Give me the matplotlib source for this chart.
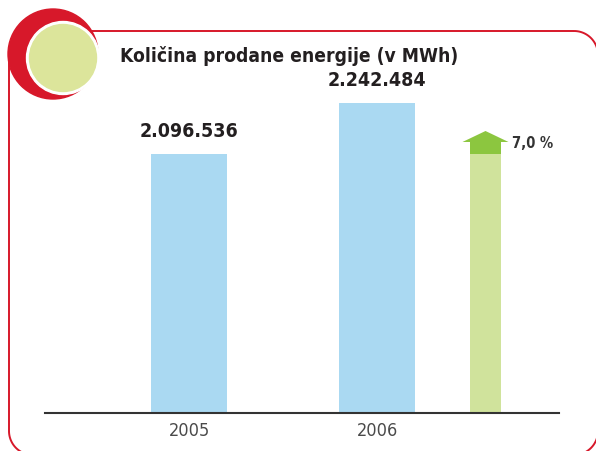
import matplotlib
matplotlib.use("Agg")
import matplotlib.pyplot as plt
import numpy as np
from matplotlib.patches import Circle, Polygon, Rectangle

# ---- data ----
categories = ["2005", "2006"]
values = [2096536, 2242484]
value_labels = ["2.096.536", "2.242.484"]
change_label = "7,0 %"
title = "Količina prodane energije (v MWh)"

plt.rcParams['font.family'] = ['DejaVu Sans']
plt.rcParams['font.stretch'] = 'condensed'

W, H = 596, 452
fig = plt.figure(figsize=(W / 100, H / 100), dpi=100)

# decoration layer in pixel coordinates (y measured from the top)
deco = fig.add_axes([0, 0, 1, 1])
deco.set_xlim(0, W)
deco.set_ylim(H, 0)
deco.axis('off')
red = "#d7182a"


def rounded_frame(x0, y0, x1, y1, r, n=30):
    pts = []
    corners = [((x1 - r, y0 + r), -90, 0), ((x1 - r, y1 - r), 0, 90),
               ((x0 + r, y1 - r), 90, 180), ((x0 + r, y0 + r), 180, 270)]
    for (cx, cy), a0, a1 in corners:
        t = np.radians(np.linspace(a0, a1, n))
        pts += list(zip(cx + r * np.cos(t), cy + r * np.sin(t)))
    pts.append(pts[0])
    return np.array(pts)


fr = rounded_frame(9, 32, 598, 456, 24)
deco.plot(fr[:, 0], fr[:, 1], color=red, lw=1.4, zorder=1, solid_capstyle='butt')
deco.add_patch(Circle((53, 55), 45, color=red, zorder=2))
deco.add_patch(Circle((63, 59), 36.5, color="white", zorder=3))
deco.add_patch(Circle((63, 59), 33.5, color="#dce59b", zorder=4))
deco.text(120, 56, title, fontsize=13.8, fontweight='bold', color="#231f20",
          va='center', ha='left', zorder=5, fontstretch='condensed')

# chart axes
base_px, top_px, left_px, right_px = 414, 40, 45, 559
ax = fig.add_axes([left_px / W, (H - base_px) / H, (right_px - left_px) / W, (base_px - top_px) / H])
ax.patch.set_alpha(0)

px_per_unit = (310 - 259) / (values[1] - values[0])
ymin = values[0] - 259 / px_per_unit
ymax = ymin + (base_px - top_px) / px_per_unit
ax.set_ylim(ymin, ymax)

x = [0, 1]
ax.bar(x, values, width=0.404, color="#aad9f2", zorder=2)
ax.set_xlim(-0.766, 1.968)

for xi, v, lab in zip(x, values, value_labels):
    ax.text(xi, v + 14 / px_per_unit, lab, ha='center', va='bottom', fontsize=14,
            fontweight='bold', color="#231f20", fontstretch='condensed')

# growth indicator
gx = 1.577
gw = 0.165
ax.bar([gx], [values[0]], width=gw, color="#d0e39c", zorder=2)
body_h = 12 / px_per_unit
head_h = 11 / px_per_unit
ax.add_patch(Rectangle((gx - gw / 2, values[0]), gw, body_h, color="#8cc63f", zorder=3, lw=0))
hw = 0.245
hb = values[0] + body_h
ax.add_patch(Polygon([(gx - hw / 2, hb), (gx + hw / 2, hb), (gx, hb + head_h)],
                     closed=True, color="#8cc63f", zorder=3, lw=0))
ax.text(gx + 0.14, values[0] + body_h, change_label, ha='left', va='center',
        fontsize=10.5, fontweight='bold', color="#333333", fontstretch='condensed')

ax.set_xticks(x)
ax.set_xticklabels(categories, fontsize=13, color="#4a4a4a", fontstretch='condensed')
ax.tick_params(axis='x', length=0, pad=6)
ax.set_yticks([])
for s in ['top', 'right', 'left']:
    ax.spines[s].set_visible(False)
ax.spines['bottom'].set_color("#333333")
ax.spines['bottom'].set_linewidth(1.5)
ax.spines['bottom'].set_zorder(5)

fig.savefig("out.png", dpi=100)
